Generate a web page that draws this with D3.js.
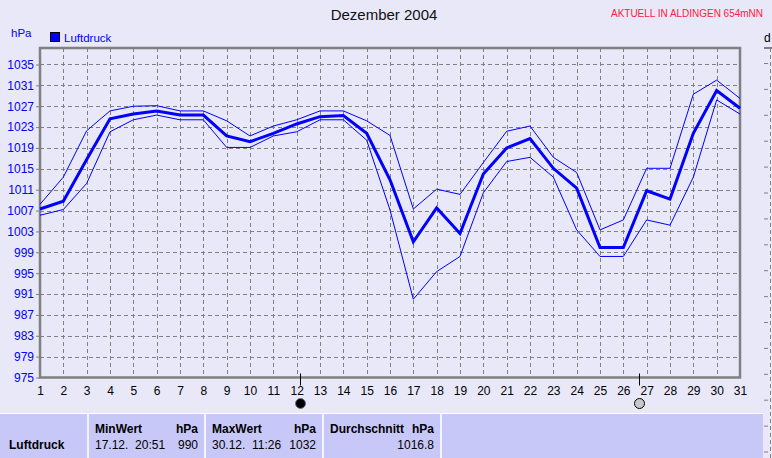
<!DOCTYPE html>
<html><head><meta charset="utf-8">
<script src="https://cdn.jsdelivr.net/npm/d3@7"></script>
<style>
html,body{margin:0;padding:0;background:#E8E8F8;}
svg{display:block;font-family:"Liberation Sans",Arial,sans-serif;}
</style></head>
<body><svg id="c" width="772" height="458"></svg>
<script>
const days = d3.range(1, 32);
const meanVals = [1007.3,1008.8,1016.8,1024.6,1025.5,1026.1,1025.3,1025.3,1021.3,1020.2,1021.8,1023.6,1025.0,1025.2,1021.8,1012.9,1001.0,1007.5,1002.6,1014.0,1019.0,1020.8,1015.1,1011.3,999.9,999.9,1010.8,1009.2,1021.8,1030.0,1026.6];
const maxVals  = [1008.2,1013.4,1022.3,1026.1,1027.0,1027.1,1026.1,1026.1,1024.2,1021.3,1023.2,1024.4,1026.1,1026.1,1024.2,1021.4,1007.3,1011.1,1010.1,1016.2,1022.2,1023.2,1017.2,1014.3,1003.3,1005.2,1015.1,1015.1,1029.3,1032.0,1028.5];
const minVals  = [1006.1,1007.2,1012.2,1022.1,1024.4,1025.3,1024.4,1024.4,1019.1,1019.1,1021.3,1022.1,1024.4,1024.4,1020.5,1007.1,990.0,995.3,998.2,1010.4,1016.4,1017.2,1013.4,1003.3,998.2,998.2,1005.2,1004.2,1013.4,1028.2,1025.5];
const yTicks = [975,979,983,987,991,995,999,1003,1007,1011,1015,1019,1023,1027,1031,1035];
const moonPhases = [{day:12.14, type:"new"},{day:26.68, type:"full"}];
const title = "Dezember 2004";
const station = "AKTUELL IN ALDINGEN 654mNN";
const unit = "hPa";
const seriesName = "Luftdruck";
const tableHeaders = [["MinWert","hPa"],["MaxWert","hPa"],["Durchschnitt","hPa"]];
const tableValues = [["17.12.  20:51","990"],["30.12.  11:26","1032"],["","1016.8"]];

const svg = d3.select("#c");
const L=40, R=740, T=48, B=377.5;
const x = d3.scaleLinear().domain([1,31]).range([L,R]);
const y = d3.scaleLinear().domain([975,1038.16]).range([B,T]);

svg.append("rect").attr("width",772).attr("height",458).attr("fill","#E8E8F8");

// title texts
svg.append("text").attr("x",384).attr("y",20).attr("text-anchor","middle")
  .attr("font-size",15).attr("fill","#101010").text(title);
svg.append("text").attr("x",763).attr("y",17).attr("text-anchor","end")
  .attr("font-size",10).attr("textLength",152).attr("fill","#FF2040").text(station);
svg.append("text").attr("x",11).attr("y",37).attr("font-size",11.5).attr("fill","#0000FF").text(unit);
svg.append("rect").attr("x",50.5).attr("y",32.5).attr("width",9).attr("height",9)
  .attr("fill","#0000FF").attr("stroke","#000");
svg.append("text").attr("x",64).attr("y",42).attr("font-size",11.5).attr("fill","#0000FF").text(seriesName);

// grid
const grid = svg.append("g").attr("stroke","#808080").attr("stroke-dasharray","4,3").attr("stroke-width",1);
grid.selectAll("line.h").data(yTicks.filter(v=>v>975)).join("line")
  .attr("x1",L).attr("x2",R).attr("y1",d=>Math.round(y(d))+0.5).attr("y2",d=>Math.round(y(d))+0.5);
grid.selectAll("line.v").data(days.filter(d=>d>1&&d<31)).join("line")
  .attr("y1",T).attr("y2",B).attr("x1",d=>Math.round(x(d))+0.5).attr("x2",d=>Math.round(x(d))+0.5);

// y axis labels + ticks
const yAxis = d3.axisLeft(y).tickValues(yTicks).tickSize(4).tickPadding(2).tickFormat(d3.format("d"));
const ya = svg.append("g").attr("transform",`translate(${L},0)`).call(yAxis);
ya.select(".domain").remove();
ya.selectAll("line").attr("stroke","#808080");
ya.selectAll("text").attr("fill","#0000FF").attr("font-size",12).attr("font-family","Liberation Sans, Arial, sans-serif");

const xAxis = d3.axisBottom(x).tickValues(days).tickSize(0).tickPadding(9).tickFormat(d3.format("d"));
const xa = svg.append("g").attr("transform",`translate(0,${B})`).call(xAxis);
xa.select(".domain").remove();
xa.selectAll("text").attr("fill","#000").attr("font-size",12).attr("font-family","Liberation Sans, Arial, sans-serif");

// frame
svg.append("rect").attr("x",L).attr("y",T).attr("width",R-L).attr("height",B-T)
  .attr("fill","none").attr("stroke","#808080").attr("stroke-width",2.5);

// lines
const line = d3.line().x((d,i)=>x(days[i])).y(d=>y(d));
svg.append("path").datum(maxVals).attr("d",line).attr("fill","none").attr("stroke","#0000FF").attr("stroke-width",1);
svg.append("path").datum(minVals).attr("d",line).attr("fill","none").attr("stroke","#0000FF").attr("stroke-width",1);
svg.append("path").datum(meanVals).attr("d",line).attr("fill","none").attr("stroke","#0000FF").attr("stroke-width",3);

// moon phases
const mg = svg.append("g");
moonPhases.forEach(m=>{
  const mx = Math.round(x(m.day))+0.5;
  mg.append("line").attr("x1",mx).attr("x2",mx).attr("y1",B-4).attr("y2",B+8).attr("stroke","#000");
  mg.append("circle").attr("cx",mx).attr("cy",403.5).attr("r",5)
    .attr("fill",m.type==="new"?"#000":"#C8C8C8").attr("stroke",m.type==="new"?"#777":"#000").attr("stroke-width",1);
});

// partial neighbouring chart at right edge
const ng = svg.append("g");
ng.append("text").attr("x",764).attr("y",42).attr("font-size",12).attr("fill","#000").text("d");
ng.append("line").attr("x1",764).attr("x2",772).attr("y1",T).attr("y2",T).attr("stroke","#808080").attr("stroke-width",2);
ng.append("line").attr("x1",770.5).attr("x2",770.5).attr("y1",T).attr("y2",458)
  .attr("stroke","#808080").attr("stroke-dasharray","4,3");
ng.selectAll("line.t").data(d3.range(0,16)).join("line")
  .attr("x1",764).attr("x2",768).attr("y1",d=>63.5+d*25.9).attr("y2",d=>63.5+d*25.9)
  .attr("stroke","#808080");

// table
const tb = svg.append("g");
tb.append("rect").attr("x",0).attr("y",414).attr("width",763).attr("height",44).attr("fill","#C8C8F8");
tb.append("line").attr("x1",0).attr("x2",763).attr("y1",413.5).attr("y2",413.5).attr("stroke","#FFFFFF");
const seps = [88,205,323,441];
seps.forEach(s=>tb.append("rect").attr("x",s-1).attr("y",414).attr("width",2).attr("height",44).attr("fill","#F4F4FF"));
tb.append("text").attr("x",9).attr("y",449).attr("font-size",12).attr("font-weight","bold").attr("fill","#000").text(seriesName);
const colL = [95,212,330], colR = [198,316,434];
tableHeaders.forEach((h,i)=>{
  tb.append("text").attr("x",colL[i]).attr("y",433).attr("font-size",12).attr("font-weight","bold").attr("fill","#000").text(h[0]);
  tb.append("text").attr("x",colR[i]).attr("y",433).attr("text-anchor","end").attr("font-size",12).attr("font-weight","bold").attr("fill","#000").text(h[1]);
  tb.append("text").attr("x",colL[i]).attr("y",449).attr("font-size",12).attr("fill","#000").style("white-space","pre").text(tableValues[i][0]);
  tb.append("text").attr("x",colR[i]).attr("y",449).attr("text-anchor","end").attr("font-size",12).attr("fill","#000").text(tableValues[i][1]);
});
</script></body></html>
